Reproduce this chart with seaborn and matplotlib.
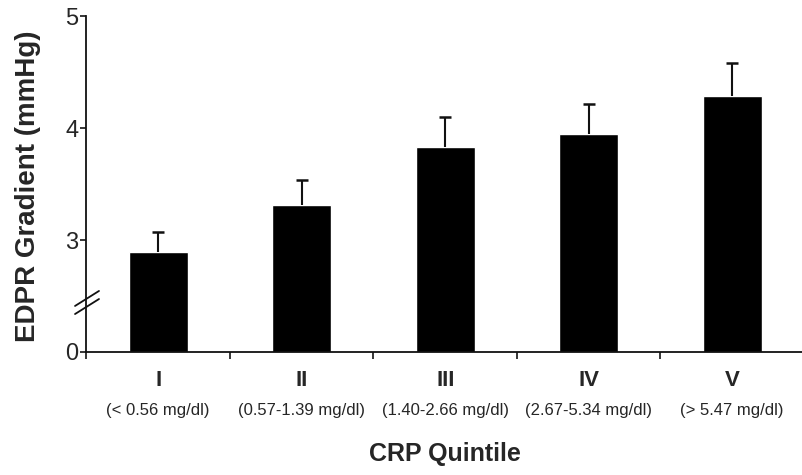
import matplotlib
matplotlib.use("Agg")
import matplotlib.pyplot as plt
import matplotlib.transforms as mtransforms
import seaborn as sns

# data (EDPR gradient by CRP quintile, mean + SE)
quintiles = ["I", "II", "III", "IV", "V"]
crp_ranges = ["(< 0.56 mg/dl)", "(0.57-1.39 mg/dl)", "(1.40-2.66 mg/dl)",
              "(2.67-5.34 mg/dl)", "(> 5.47 mg/dl)"]
edpr_mean = [2.89, 3.31, 3.83, 3.95, 4.29]
edpr_err = [0.18, 0.23, 0.27, 0.26, 0.29]

# broken axis: bottom of the plot stands for 0
y_ticks = [2, 3, 4, 5]
y_ticklabels = ["0", "3", "4", "5"]

sns.set_style("ticks")
plt.rcParams["font.family"] = ["Liberation Sans", "DejaVu Sans"]

W, H = 803, 475
fig = plt.figure(figsize=(W / 100, H / 100), dpi=100)
x0, x1, y0, y1 = 86.5, 804, 16, 352
ax = fig.add_axes([x0 / W, 1 - y1 / H, (x1 - x0) / W, (y1 - y0) / H])

sns.barplot(x=quintiles, y=edpr_mean, color="black", width=0.41,
            saturation=1, ax=ax)
_, caps, _ = ax.errorbar(range(len(quintiles)), edpr_mean,
                         yerr=[[0] * len(edpr_err), edpr_err], fmt="none",
                         ecolor="#111111", elinewidth=1.5, capsize=4,
                         capthick=1.8)
caps[0].set_visible(False)  # only the upper whisker has a cap

ax.set_xlim(-0.5, len(quintiles) - 0.5)
ax.set_ylim(2, 5)
ax.set_yticks(y_ticks)
ax.set_yticklabels(y_ticklabels, fontsize=17)

sns.despine(ax=ax)
for s in ["left", "bottom"]:
    ax.spines[s].set_linewidth(1.3)
    ax.spines[s].set_color("#111111")

# category labels sit in the middle, tick marks go between bars
ax.set_xticks(range(len(quintiles)))
ax.set_xticklabels([])
ax.set_xticks([i - 0.5 for i in range(len(quintiles) + 1)], minor=True)
ax.tick_params(axis="x", which="major", length=0)
ax.tick_params(axis="x", which="minor", length=5, width=1.3, direction="out")
ax.tick_params(axis="y", length=4.5, width=1.3, direction="out", pad=1.5)

ah = y1 - y0
trans = mtransforms.blended_transform_factory(ax.transData, ax.transAxes)
for i, (q, r) in enumerate(zip(quintiles, crp_ranges)):
    ax.text(i, -(380.5 - y1) / ah, q, transform=trans, ha="center",
            va="center", fontsize=16, fontweight="bold")
    ax.text(i, -(411 - y1) / ah, r, transform=trans, ha="center",
            va="center", fontsize=12)

ax.set_xlabel("CRP Quintile", fontsize=18, fontweight="bold")
ax.xaxis.set_label_coords(0.5, -(454 - y1) / ah)
ax.xaxis.label.set_va("center")
ax.set_ylabel("EDPR Gradient (mmHg)", fontsize=20, fontweight="bold")
ax.yaxis.set_label_coords((28 - x0) / (x1 - x0), (y1 - 186) / ah)
ax.yaxis.label.set_va("center")

# the // break marks on the y axis
btrans = mtransforms.blended_transform_factory(ax.transAxes, ax.transData)
bx = [-0.016, 0.0174]
for lo, hi in [(2.411, 2.545), (2.339, 2.473)]:
    ax.plot(bx, [lo, hi], color="#111111", lw=1.3, transform=btrans,
            clip_on=False)

fig.savefig("out.png", dpi=100)
